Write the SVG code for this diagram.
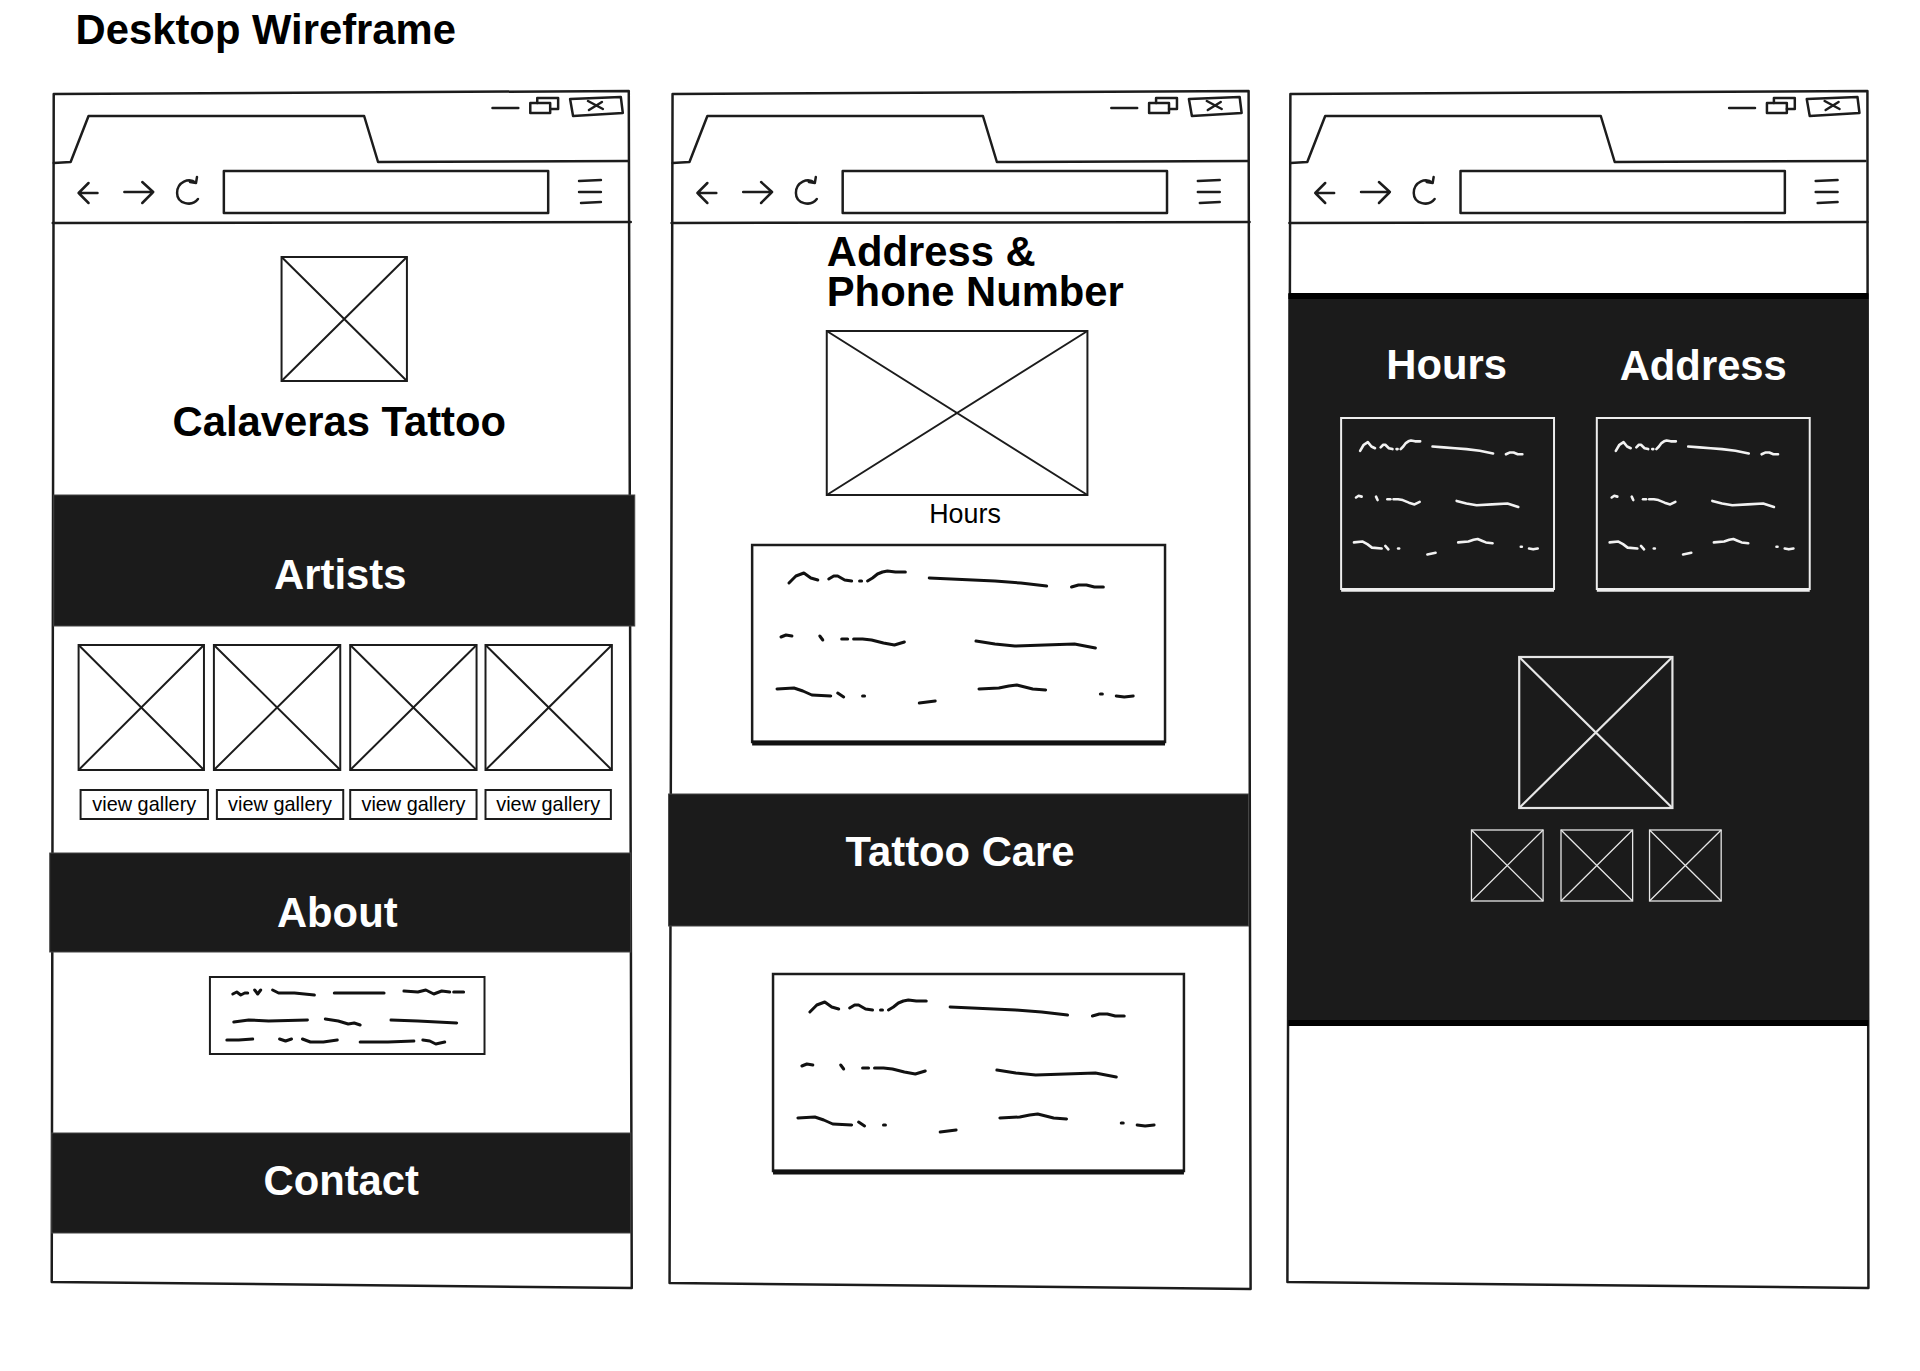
<svg xmlns="http://www.w3.org/2000/svg" xmlns:xlink="http://www.w3.org/1999/xlink" width="1920" height="1371" viewBox="0 0 1920 1371">
<style>
.ln{fill:none;stroke:#1c1c1c;stroke-width:2.5;stroke-linecap:round;stroke-linejoin:round}
.win{fill:#fff;stroke:#1c1c1c;stroke-width:2.5;stroke-linejoin:round}
.band{fill:#1b1b1b;stroke:#444;stroke-width:1}
.h{font-family:"Liberation Sans",Arial,sans-serif;font-weight:bold;font-size:42px;fill:#000}
.hw{fill:#fff}
.ph{fill:#fff;stroke:#1c1c1c;stroke-width:2}
.phx{fill:none;stroke:#1c1c1c;stroke-width:2}
.phw{fill:none;stroke:#e6e6e6;stroke-width:2.2}
.phw1{fill:none;stroke:#e6e6e6;stroke-width:1.3}
.btn{fill:#fff;stroke:#1c1c1c;stroke-width:2}
.bt{font-family:"Liberation Sans",Arial,sans-serif;font-size:20px;fill:#000;text-anchor:middle}
.sp{fill:none;stroke-linecap:round;stroke-linejoin:round;vector-effect:non-scaling-stroke}
.scb{stroke:#111;stroke-width:3}
.scw{stroke:#f2f2f2;stroke-width:2.6}
.box{fill:#fff;stroke:#1c1c1c;stroke-width:2.5}
.dbox{fill:#1b1b1b;stroke:#eeeeee;stroke-width:2}
</style>
<defs>
<g id="chrome">
<path class="ln" d="M495,108 L521,108"/>
<path class="ln" d="M540,103 L540,98 L561,98 L561,109 L553,109"/>
<rect class="ln" x="533" y="103" width="20" height="10" fill="#fff"/>
<path class="ln" d="M573,99 L624,97 L626,113 L576,116 Z"/>
<path class="ln" d="M591,101 L606,109 M592,110 L605,102"/>
<path class="ln" d="M54,163 L71,162 L89,116 L366,116 L380,162 L632,161"/>
<path class="ln" d="M53,223 L634,222"/>
<path class="ln" d="M98,193 L79,193 M89,183 L79,193 L89,203"/>
<path class="ln" d="M125,192 L154,192 M143,182 L154,192 L143,203"/>
<path class="ln" d="M197,183 C190,177 178,182 178,193 C178,204 193,207 199,199 M191,182 L197,183 L198,177"/>
<rect class="ln" x="225" y="171" width="326" height="42"/>
<path class="ln" d="M582,181 L604,180 M582,192 L604,192 M584,203 L604,202"/>
</g>
<g id="scribble">
<path class="sp" d="M37,38 L44,31 L52,28 L59,33 L66,35"/>
<path class="sp" d="M77,34 L82,31 L86,31 L93,35 L100,36"/>
<path class="sp" d="M108,36 L110,36"/>
<path class="sp" d="M116,36 L121,33 L126,29 L131,27 L136,26 L144,27 L154,27"/>
<path class="sp" d="M178,33 L200,34 L222,35 L244,36 L270,38 L296,41"/>
<path class="sp" d="M321,42 L328,40 L336,40 L344,42 L353,42"/>
<path class="sp" d="M29,92 L34,90 L40,91"/>
<path class="sp" d="M68,91 L71,95"/>
<path class="sp" d="M90,94 L96,94"/>
<path class="sp" d="M102,94 L111,94 L120,95 L132,98 L143,100 L153,97"/>
<path class="sp" d="M225,96 L244,99 L264,101 L294,100 L324,99 L345,103"/>
<path class="sp" d="M25,144 L42,143 L51,146 L60,150 L79,151"/>
<path class="sp" d="M86,148 L92,152"/>
<path class="sp" d="M111,151 L113,151"/>
<path class="sp" d="M168,158 L184,156"/>
<path class="sp" d="M228,144 L248,143 L258,141 L266,140 L274,142 L282,144 L295,145"/>
<path class="sp" d="M350,149 L352,149"/>
<path class="sp" d="M366,151 L374,152 L383,151"/>
</g>
</defs>

<rect x="0" y="0" width="1920" height="1371" fill="#fff"/>

<g id="page" transform="matrix(0.9949 0 0 1 0 0)">
<text id="title" class="h" x="76" y="44">Desktop Wireframe</text>

<g id="window-home">
<path class="win" d="M54,94 L632,91 L635,1288 L52,1282 Z"/>
<use href="#chrome"/>
<g id="logo">
<rect class="ph" x="283" y="257" width="126" height="124"/>
<path class="phx" d="M283,257 L409,381 M409,257 L283,381"/>
</g>
<text class="h" x="341" y="436" text-anchor="middle">Calaveras Tattoo</text>
<g id="band-artists">
<rect class="band" x="54" y="495" width="584" height="131"/>
<text class="h hw" x="342" y="589" text-anchor="middle">Artists</text>
</g>
<g id="artists">
<rect class="ph" x="79" y="645" width="126" height="125"/>
<path class="phx" d="M79,645 L205,770 M205,645 L79,770"/>
<rect class="ph" x="215" y="645" width="127" height="125"/>
<path class="phx" d="M215,645 L342,770 M342,645 L215,770"/>
<rect class="ph" x="352" y="645" width="127" height="125"/>
<path class="phx" d="M352,645 L479,770 M479,645 L352,770"/>
<rect class="ph" x="488" y="645" width="127" height="125"/>
<path class="phx" d="M488,645 L615,770 M615,645 L488,770"/>
<rect class="btn" x="81" y="790" width="128" height="29"/>
<text class="bt" x="145" y="811">view gallery</text>
<rect class="btn" x="218" y="790" width="127" height="29"/>
<text class="bt" x="281.5" y="811">view gallery</text>
<rect class="btn" x="352" y="790" width="127" height="29"/>
<text class="bt" x="415.5" y="811">view gallery</text>
<rect class="btn" x="488" y="790" width="126" height="29"/>
<text class="bt" x="551" y="811">view gallery</text>
</g>
<g id="band-about">
<rect class="band" x="50" y="853" width="584" height="99"/>
<text class="h hw" x="339" y="927" text-anchor="middle">About</text>
</g>
<g id="about-text">
<rect class="btn" x="211" y="977" width="276" height="77"/>
<g class="sp scb">
<path class="sp" d="M234,994 L238,992 L242,995 L246,993 L249,993"/>
<path class="sp" d="M256,990 L259,994 L262,990"/>
<path class="sp" d="M274,990 L280,993 L296,993 L316,995"/>
<path class="sp" d="M336,993 L386,993"/>
<path class="sp" d="M406,991 L420,992 L428,990 L436,994 L444,991 L452,992 M456,992 L466,992"/>
<path class="sp" d="M235,1022 L250,1020 L270,1021 L309,1020"/>
<path class="sp" d="M327,1019 L340,1021 L350,1024 L356,1023 L362,1025"/>
<path class="sp" d="M393,1020 L420,1021 L459,1023"/>
<path class="sp" d="M228,1040 L240,1040 L254,1039"/>
<path class="sp" d="M281,1039 L287,1041 L293,1039"/>
<path class="sp" d="M304,1039 L312,1042 L325,1042 L339,1040"/>
<path class="sp" d="M362,1042 L390,1042 L416,1041"/>
<path class="sp" d="M425,1040 L432,1041 L438,1044 L447,1042"/>
</g>
</g>
<g id="band-contact">
<rect class="band" x="52" y="1133" width="582" height="100"/>
<text class="h hw" x="343" y="1195" text-anchor="middle">Contact</text>
</g>
</g>

<g id="window-info">
<path class="win" d="M676,94 L1255,91 L1257,1289 L673,1283 Z"/>
<use href="#chrome" transform="translate(622,0)"/>
<text class="h" x="831" y="266">Address &amp;<tspan x="831" y="306">Phone Number</tspan></text>
<g id="map">
<rect class="ph" x="831" y="331" width="262" height="164" stroke-width="3"/>
<path class="phx" stroke-width="3" d="M831,331 L1093,495 M1093,331 L831,495"/>
</g>
<text x="970" y="523" text-anchor="middle" font-family="'Liberation Sans', Arial, sans-serif" font-size="27">Hours</text>
<g id="hours-text">
<rect class="box" x="756" y="545" width="415" height="197"/>
<path d="M756,743 L1171,743" stroke="#111" stroke-width="5"/>
<use href="#scribble" class="scb" transform="translate(756,545)"/>
</g>
<g id="band-care">
<rect class="band" x="672" y="794" width="583" height="132"/>
<text class="h hw" x="965" y="866" text-anchor="middle">Tattoo Care</text>
</g>
<g id="care-text">
<rect class="box" x="777" y="974" width="413" height="197"/>
<path d="M777,1172 L1190,1172" stroke="#111" stroke-width="5"/>
<use href="#scribble" class="scb" transform="translate(777,974)"/>
</g>
</g>

<g id="window-contact">
<path class="win" d="M1297,94 L1877,91 L1878,1288 L1294,1282 Z"/>
<use href="#chrome" transform="translate(1243,0)"/>
<g id="contact-panel">
<rect x="1295" y="294" width="583" height="731" fill="#1b1b1b"/>
<rect x="1295" y="293" width="583" height="6" fill="#000"/>
<rect x="1295" y="1020" width="583" height="6" fill="#000"/>
<text class="h hw" x="1454" y="379" text-anchor="middle">Hours</text>
<text class="h hw" x="1712" y="380" text-anchor="middle">Address</text>
<g id="hours-box">
<rect class="dbox" x="1348" y="418" width="214" height="171"/>
<path d="M1348,590 L1562,590" stroke="#eee" stroke-width="3.5"/>
<use href="#scribble" class="scw" transform="translate(1348,418) scale(0.516,0.864)"/>
</g>
<g id="address-box">
<rect class="dbox" x="1605" y="418" width="214" height="171"/>
<path d="M1605,590 L1819,590" stroke="#eee" stroke-width="3.5"/>
<use href="#scribble" class="scw" transform="translate(1605,418) scale(0.516,0.864)"/>
</g>
<g id="photo-main">
<rect class="phw" x="1527" y="657" width="154" height="151"/>
<path class="phw" d="M1527,657 L1681,808 M1681,657 L1527,808"/>
</g>
<g id="photo-thumbs">
<rect class="phw1" x="1479" y="830" width="72" height="71"/>
<path class="phw1" d="M1479,830 L1551,901 M1551,830 L1479,901"/>
<rect class="phw1" x="1569" y="830" width="72" height="71"/>
<path class="phw1" d="M1569,830 L1641,901 M1641,830 L1569,901"/>
<rect class="phw1" x="1658" y="830" width="72" height="71"/>
<path class="phw1" d="M1658,830 L1730,901 M1730,830 L1658,901"/>
</g>
</g>
</g>
</g>
</svg>
